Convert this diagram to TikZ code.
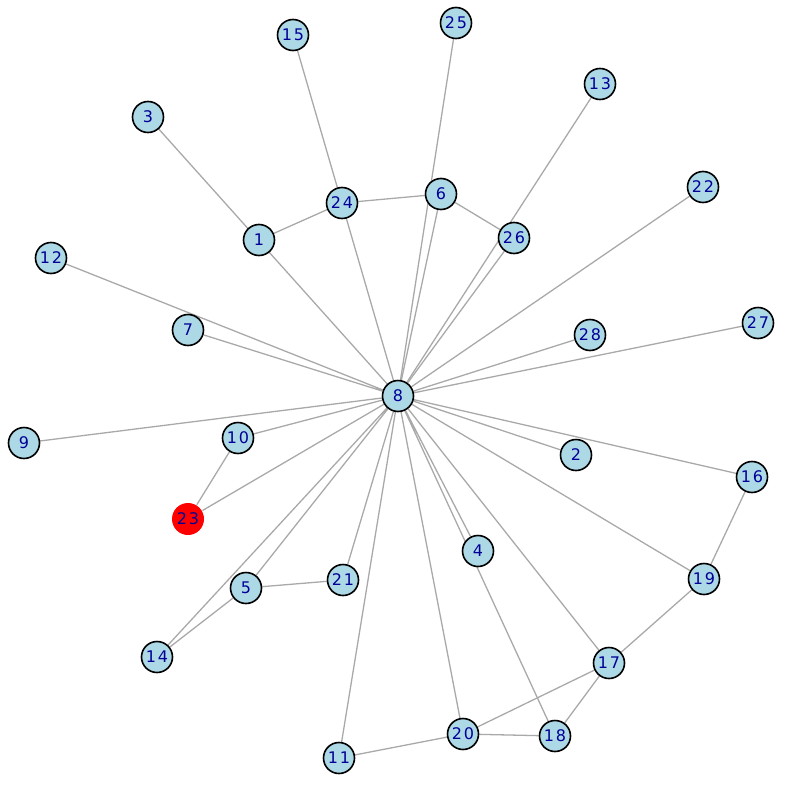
\documentclass[tikz,border=0pt]{standalone}
\usepackage{fontspec}
\setmainfont{DejaVu Sans}
\newfontfamily\vertexfont[LetterSpace=12]{DejaVu Sans}
\usepackage{tikz}
\usetikzlibrary{
  backgrounds % 边画在背景层，节点压在上面
}
\tikzset{
  vertex/.style={
    circle,
    draw=black,
    line width=1.6pt,
    fill=lightblue,
    minimum size=31pt,
    inner sep=0pt,
    text=darkblue,
    font=\vertexfont\fontsize{16}{16}\selectfont
  },
  hit vertex/.style={
    vertex,
    draw=none,
    fill=red,
    minimum size=32pt
  },
  edge/.style={
    line width=1.3pt,
    color=edgegray
  }
}
\definecolor{lightblue}{RGB}{173,216,230}
\definecolor{darkblue}{RGB}{0,0,150}
\definecolor{edgegray}{RGB}{169,169,169}

\begin{document}
\begin{tikzpicture}[x=1pt, y=-1pt] % 坐标按原图像素取，y 轴向下

  \useasboundingbox (0,0) rectangle (792,792); % 固定画布大小

  % 中心节点与外围节点
  \node[vertex] (n8) at (398,396) {8}; % 中心 8
  \node[vertex] (n1) at (259,240) {1};
  \node[vertex] (n2) at (576,455) {2};
  \node[vertex] (n3) at (148,117) {3};
  \node[vertex] (n4) at (478,551) {4};
  \node[vertex] (n5) at (246,588) {5};
  \node[vertex] (n6) at (441,194) {6};
  \node[vertex] (n7) at (188,330) {7};
  \node[vertex] (n9) at (24,443) {9};
  \node[vertex] (n10) at (238,438) {10};
  \node[vertex] (n11) at (339,758) {11};
  \node[vertex] (n12) at (51,258) {12};
  \node[vertex] (n13) at (600,84) {13};
  \node[vertex] (n14) at (157,657) {14};
  \node[vertex] (n15) at (293,35) {15};
  \node[vertex] (n16) at (752,477) {16};
  \node[vertex] (n17) at (609,663) {17};
  \node[vertex] (n18) at (555,736) {18};
  \node[vertex] (n19) at (704,579) {19};
  \node[vertex] (n20) at (463,734) {20};
  \node[vertex] (n21) at (343,580) {21};
  \node[vertex] (n22) at (703,187) {22};
  \node[hit vertex] (n23) at (188,519) {23}; % 红色标记节点
  \node[vertex] (n24) at (342,203) {24};
  \node[vertex] (n25) at (456,23) {25};
  \node[vertex] (n26) at (514,238) {26};
  \node[vertex] (n27) at (758,323) {27};
  \node[vertex] (n28) at (590,335) {28};

  % 连线放在背景层
  \begin{scope}[on background layer]
    \draw[edge] (n8.center) -- (n3.center) (n8.center) -- (n15.center) (n8.center) -- (n25.center) (n8.center) -- (n13.center); % 穿过 1、24、6、26 的长边
    \draw[edge] (n8) -- (n6) (n8) -- (n26) (n8) -- (n22) (n8) -- (n28) (n8) -- (n27);
    \draw[edge] (n8) -- (n12) (n8) -- (n7) (n8) -- (n9) (n8) -- (n10) (n8) -- (n23);
    \draw[edge] (n8) -- (n14) (n8) -- (n5) (n8) -- (n21) (n8) -- (n11) (n8) -- (n20);
    \draw[edge] (n8.center) -- (n18.center) (n8) -- (n4) (n8) -- (n17) (n8) -- (n19) (n8) -- (n16) (n8) -- (n2);
    \draw[edge] (n1) -- (n24) -- (n6) -- (n26); % 上方小链
    \draw[edge] (n10) -- (n23) (n14) -- (n5) -- (n21); % 左下
    \draw[edge] (n16) -- (n19) -- (n17) -- (n20) -- (n11) (n17) -- (n18) -- (n20); % 右下
  \end{scope}

\end{tikzpicture}
\end{document}
